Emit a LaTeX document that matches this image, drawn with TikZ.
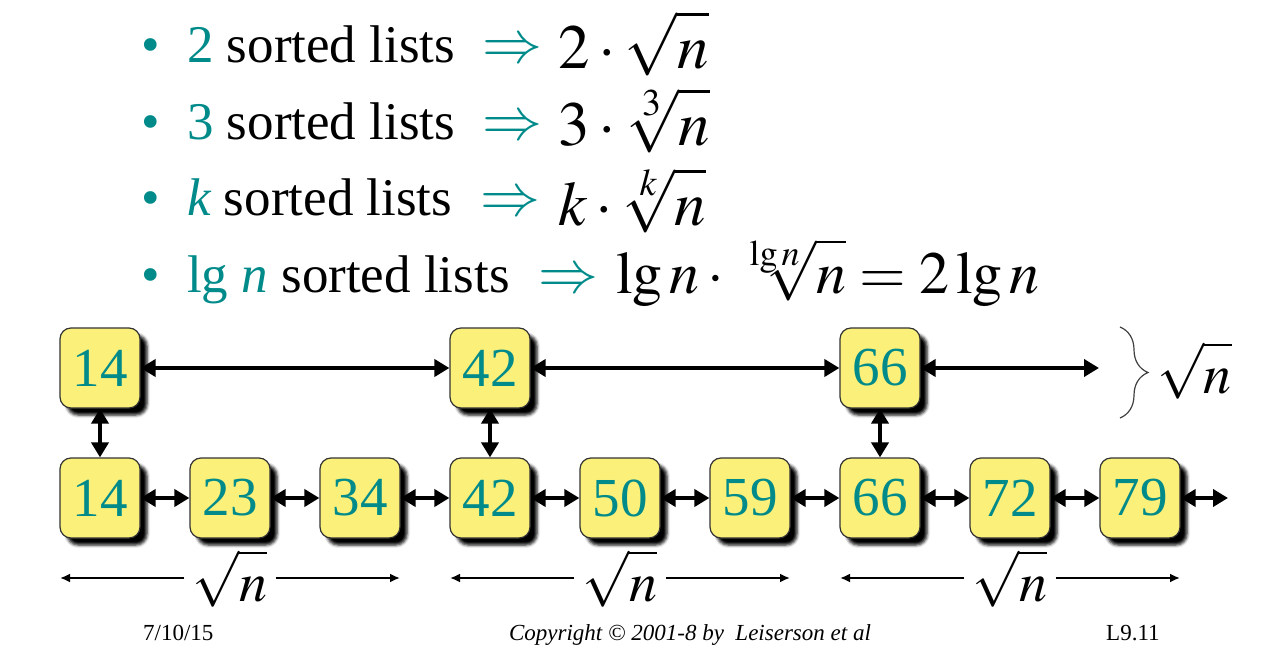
\documentclass[tikz,border=0pt]{standalone}
\usepackage{mathptmx}
\usepackage[no-math]{fontspec}
\setmainfont{Liberation Serif}
\usetikzlibrary{arrows.meta,shadows.blur,decorations.pathreplacing}
\definecolor{skipteal}{RGB}{0,138,138}
\definecolor{skipyellow}{RGB}{250,240,122}
\newcommand{\tallroot}[1]{\sqrt{\vphantom{l}#1}}
\newcommand{\tallnroot}[2]{\sqrt[#1]{\vphantom{l}#2}}

\begin{document}
\begin{tikzpicture}[x=1pt,y=-1pt,
  key/.style={draw=black!80,line width=1.2pt,fill=skipyellow,rounded corners=11pt,
    minimum size=80pt,inner sep=0pt,text=skipteal,font=\fontsize{55}{60}\selectfont,
    blur shadow={shadow xshift=7pt,shadow yshift=-7pt,shadow blur radius=3pt,shadow opacity=100,shadow blur extra rounding=2pt}},
  link/.style={line width=4.5pt,{Triangle[length=15pt,width=17pt]}-{Triangle[length=15pt,width=17pt]}},
  spanarrow/.style={line width=2.4pt,-{Latex[length=10pt,width=9pt]}},
  item/.style={anchor=base west,inner sep=0pt,font=\fontsize{53}{60}\selectfont},
  implies/.style={anchor=base west,inner sep=0pt,text=skipteal,font=\fontsize{60}{60}\selectfont},
  formula/.style={anchor=base west,inner sep=0pt,font=\fontsize{63}{70}\selectfont},
  foot/.style={anchor=base west,inner sep=0pt,font=\fontsize{23}{28}\selectfont}]
\useasboundingbox (0,0) rectangle (1272,671);

% the four bullet lines
\node[item,text=skipteal] (bul1) at (141,63) {\textbullet};
\node[item] (txt1) at (187,63) {\textcolor{skipteal}{2} sorted lists};
\node[implies] (imp1) at (482,63) {$\Rightarrow$};
\node[formula] (res1) at (558,69) {$2\cdot\tallroot{n}$};

\node[item,text=skipteal] (bul2) at (141,140) {\textbullet};
\node[item] (txt2) at (187,140) {\textcolor{skipteal}{3} sorted lists};
\node[implies] (imp2) at (482,140) {$\Rightarrow$};
\node[formula] (res2) at (558,146) {$3\cdot\tallnroot{3}{n}$};

\node[item,text=skipteal] (bul3) at (141,216) {\textbullet};
\node[item] (txt3) at (187,216) {\textcolor{skipteal}{\itshape k} sorted lists};
\node[implies] (imp3) at (480,216) {$\Rightarrow$};
\node[formula] (res3) at (558,226) {$k\cdot\tallnroot{k}{n}$};

\node[item,text=skipteal] (bul4) at (141,292) {\textbullet};
\node[item] (txt4) at (187,292) {\textcolor{skipteal}{lg \itshape n} sorted lists};
\node[implies] (imp4) at (538,292) {$\Rightarrow$};
\node[formula,font=\fontsize{60}{70}\selectfont] (res4) at (616,294) {$\lg n\cdot\tallnroot{\lg n}{n}=2\lg n$};

% express lane
\node[key] (e14) at (100,368) {14};
\node[key] (e42) at (490,368) {42};
\node[key] (e66) at (880,368) {66};
\coordinate (eend) at (1099,368);

% full list
\foreach \v [count=\i from 0] in {14,23,34,42,50,59,66,72,79}
  \node[key] (l\v) at (100+130*\i,498) {\v};
\coordinate (lend) at (1228,498);

\draw[link] (e14) -- (e42);
\draw[link] (e42) -- (e66);
\draw[link] (e66) -- (eend);
\draw[link] (e14) -- (l14);
\draw[link] (e42) -- (l42);
\draw[link] (e66) -- (l66);
\draw[link] (l14) -- (l23);
\draw[link] (l23) -- (l34);
\draw[link] (l34) -- (l42);
\draw[link] (l42) -- (l50);
\draw[link] (l50) -- (l59);
\draw[link] (l59) -- (l66);
\draw[link] (l66) -- (l72);
\draw[link] (l72) -- (l79);
\draw[link] (l79) -- (lend);

% brace on the express lane
\coordinate (btop) at (1120,327);
\coordinate (bbot) at (1120,418);
\draw[black!75,line width=1.2pt,decorate,decoration={brace,amplitude=28pt}] (btop) -- (bbot);
\node[formula,font=\fontsize{56}{60}\selectfont] (brn) at (1157,393) {$\tallroot{n}$};

% segment lengths
\foreach \s/\x in {1/230,2/620,3/1010} {
  \coordinate (sl\s) at (\x-170,578);
  \coordinate (sr\s) at (\x+170,578);
  \node[formula,anchor=base,inner xsep=8pt,font=\fontsize{56}{60}\selectfont] (sq\s) at (\x,601) {$\tallroot{n}$};
  \draw[spanarrow] (sl\s -| sq\s.west) -- (sl\s);
  \draw[spanarrow] (sr\s -| sq\s.east) -- (sr\s);
}

% footer
\node[foot] (date) at (143,640) {7/10/15};
\node[foot,anchor=base] (copy) at (690,640) {\itshape Copyright © 2001-8 by\ \ Leiserson et al};
\node[foot] (page) at (1106,640) {L9.11};
\end{tikzpicture}
\end{document}
